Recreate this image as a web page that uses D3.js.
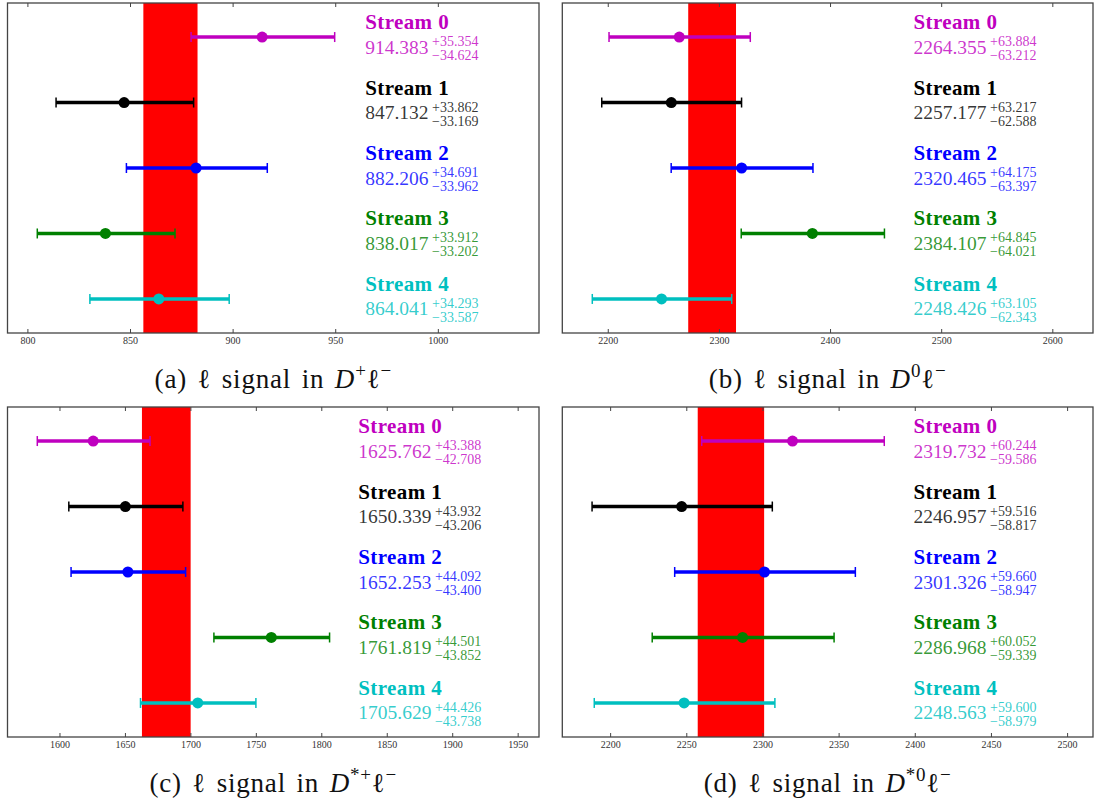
<!DOCTYPE html>
<html>
<head>
<meta charset="utf-8">
<script src="https://cdn.jsdelivr.net/npm/d3@7"></script>
<style>
  html, body { margin: 0; padding: 0; background: #fff; }
  svg { display: block; }
  text { font-family: "Liberation Serif", "DejaVu Serif", serif; }
</style>
</head>
<body>
<svg id="chart" width="1094" height="806"></svg>
<script>
// Stream fit results for the lepton signal yield in four D-meson channels
const streamNames = ["Stream 0", "Stream 1", "Stream 2", "Stream 3", "Stream 4"];
const streamColors = ["#bf00bf", "#000000", "#0000ff", "#008000", "#00bfbf"];

// (a) D+ l-
const valuesA  = [914.383, 847.132, 882.206, 838.017, 864.041];
const errUpA   = [35.354, 33.862, 34.691, 33.912, 34.293];
const errDownA = [34.624, 33.169, 33.962, 33.202, 33.587];
const bandA    = [856.5, 882.9];
const ticksA   = [800, 850, 900, 950, 1000];

// (b) D0 l-
const valuesB  = [2264.355, 2257.177, 2320.465, 2384.107, 2248.426];
const errUpB   = [63.884, 63.217, 64.175, 64.845, 63.105];
const errDownB = [63.212, 62.588, 63.397, 64.021, 62.343];
const bandB    = [2272.4, 2315.4];
const ticksB   = [2200, 2300, 2400, 2500, 2600];

// (c) D*+ l-
const valuesC  = [1625.762, 1650.339, 1652.253, 1761.819, 1705.629];
const errUpC   = [43.388, 43.932, 44.092, 44.501, 44.426];
const errDownC = [42.708, 43.206, 43.400, 43.852, 43.738];
const bandC    = [1663.0, 1700.2];
const ticksC   = [1600, 1650, 1700, 1750, 1800, 1850, 1900, 1950];

// (d) D*0 l-
const valuesD  = [2319.732, 2246.957, 2301.326, 2286.968, 2248.563];
const errUpD   = [60.244, 59.516, 59.660, 60.052, 59.600];
const errDownD = [59.586, 58.817, 58.947, 59.339, 58.979];
const bandD    = [2257.5, 2301.1];
const ticksD   = [2200, 2250, 2300, 2350, 2400, 2450, 2500];

// Caption pieces: prefix, superscript on D
const captionTags = ["(a)", "(b)", "(c)", "(d)"];
const captionSups = ["+", "0", "*+", "*0"];

// Panel layout
const panels = [
  { values: valuesA, up: errUpA, down: errDownA, band: bandA, ticks: ticksA,
    domain: [790.3, 1049.3], x0: 7.5,   y0: 3,   w: 531.5, labelFrac: 0.673 },
  { values: valuesB, up: errUpB, down: errDownB, band: bandB, ticks: ticksB,
    domain: [2159.1, 2636.6], x0: 562.3, y0: 3,   w: 530.7, labelFrac: 0.6616 },
  { values: valuesC, up: errUpC, down: errDownC, band: bandC, ticks: ticksC,
    domain: [1560.3, 1966.3], x0: 7.5,   y0: 407, w: 531.5, labelFrac: 0.66 },
  { values: valuesD, up: errUpD, down: errDownD, band: bandD, ticks: ticksD,
    domain: [2168.6, 2517.0], x0: 562.3, y0: 407, w: 530.7, labelFrac: 0.6616 }
];
const panelH = 330;
const serif = "Liberation Serif, DejaVu Serif, serif";

const svg = d3.select("#chart");
const fmt = d3.format(".3f");

panels.forEach((p, k) => {
  const g = svg.append("g").attr("transform", `translate(${p.x0},${p.y0})`);
  const x = d3.scaleLinear().domain(p.domain).range([0, p.w]);
  const y = d3.scalePoint().domain(d3.range(streamNames.length)).range([0, panelH]).padding(0.52);

  // Reference band
  g.append("rect")
    .attr("x", x(p.band[0]))
    .attr("y", 0)
    .attr("width", x(p.band[1]) - x(p.band[0]))
    .attr("height", panelH)
    .attr("fill", "#ff0000");

  // Error bars
  const rows = g.selectAll("g.row").data(streamNames).join("g").attr("class", "row");
  rows.append("line")
    .attr("x1", (d, i) => x(p.values[i] - p.down[i]))
    .attr("x2", (d, i) => x(p.values[i] + p.up[i]))
    .attr("y1", (d, i) => y(i)).attr("y2", (d, i) => y(i))
    .attr("stroke", (d, i) => streamColors[i]).attr("stroke-width", 3.5);
  [(i) => p.values[i] - p.down[i], (i) => p.values[i] + p.up[i]].forEach(end => {
    rows.append("line")
      .attr("x1", (d, i) => x(end(i))).attr("x2", (d, i) => x(end(i)))
      .attr("y1", (d, i) => y(i) - 5).attr("y2", (d, i) => y(i) + 5)
      .attr("stroke", (d, i) => streamColors[i]).attr("stroke-width", 1.5);
  });
  rows.append("circle")
    .attr("cx", (d, i) => x(p.values[i]))
    .attr("cy", (d, i) => y(i))
    .attr("r", 5.5)
    .attr("fill", (d, i) => streamColors[i]);

  // Stream labels with value and asymmetric errors
  const lx = p.w * p.labelFrac;
  rows.each(function (d, i) {
    const r = d3.select(this);
    const cy = y(i);
    r.append("text")
      .attr("x", lx).attr("y", cy - 8)
      .attr("font-family", serif)
      .attr("font-size", 21).attr("font-weight", "bold")
      .attr("letter-spacing", 0.4)
      .attr("fill", streamColors[i])
      .text(d);
    const num = r.append("text")
      .attr("x", lx).attr("y", cy + 16.5)
      .attr("font-family", serif)
      .attr("font-size", 19.5)
      .attr("fill", streamColors[i]).attr("fill-opacity", 0.8)
      .text(fmt(p.values[i]));
    const nx = lx + num.node().getComputedTextLength() + 3.5;
    r.append("text")
      .attr("x", nx).attr("y", cy + 9)
      .attr("font-family", serif)
      .attr("font-size", 14)
      .attr("fill", streamColors[i]).attr("fill-opacity", 0.8)
      .text("+" + fmt(p.up[i]));
    r.append("text")
      .attr("x", nx).attr("y", cy + 23)
      .attr("font-family", serif)
      .attr("font-size", 14)
      .attr("fill", streamColors[i]).attr("fill-opacity", 0.8)
      .text("\u2212" + fmt(p.down[i]));
  });

  // Bottom axis with inward ticks and labels
  const bottom = g.append("g").attr("transform", `translate(0,${panelH})`)
    .call(d3.axisBottom(x).tickValues(p.ticks).tickSize(-4).tickPadding(3.4).tickFormat(d3.format("d")));
  bottom.attr("font-family", serif);
  bottom.select(".domain").remove();
  bottom.selectAll("line").attr("stroke", "#444").attr("stroke-width", 1);
  bottom.selectAll("text").attr("font-size", 10).attr("fill", "#333")
    .attr("font-family", serif);

  // Top axis mirrors the ticks without labels
  const top = g.append("g")
    .call(d3.axisTop(x).tickValues(p.ticks).tickSize(-4).tickFormat(""));
  top.select(".domain").remove();
  top.selectAll("line").attr("stroke", "#444").attr("stroke-width", 1);

  // Frame
  g.append("rect")
    .attr("x", 0).attr("y", 0).attr("width", p.w).attr("height", panelH)
    .attr("fill", "none").attr("stroke", "#444").attr("stroke-width", 1.3);

  // Caption
  const cap = svg.append("text")
    .attr("x", p.x0 + p.w / 2)
    .attr("y", p.y0 + panelH + 55)
    .attr("text-anchor", "middle")
    .attr("font-family", serif)
    .attr("font-size", 27)
    .attr("letter-spacing", 0.8)
    .attr("word-spacing", 3)
    .attr("fill", "#111");
  cap.append("tspan").text(captionTags[k] + " \u2113 signal in ");
  cap.append("tspan").attr("font-style", "italic").text("D");
  cap.append("tspan").attr("font-size", 19).attr("dy", -11).text(captionSups[k]);
  cap.append("tspan").attr("dy", 11).text("\u2113");
  cap.append("tspan").attr("font-size", 19).attr("dy", -11).text("\u2212");
});
</script>
</body>
</html>
